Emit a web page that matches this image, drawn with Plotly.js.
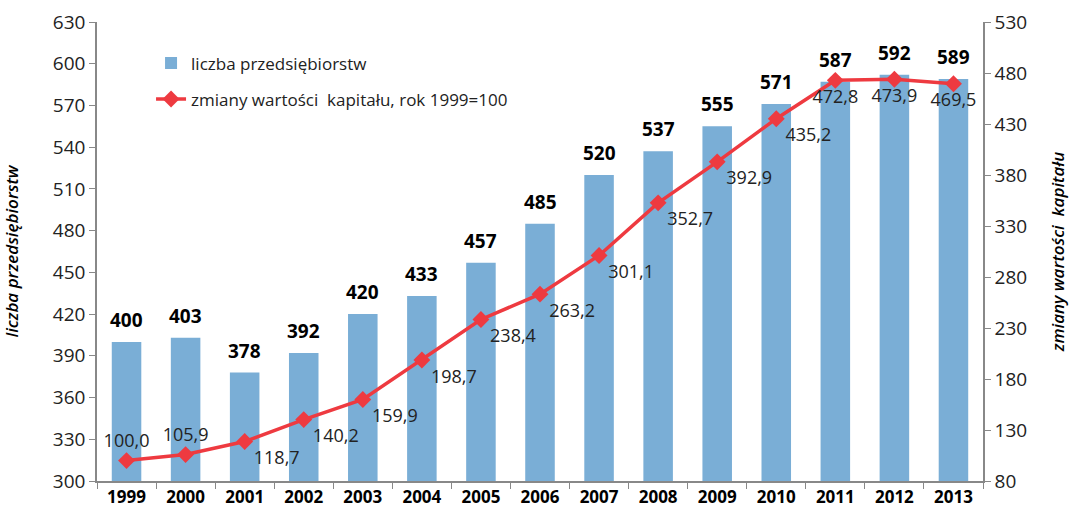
<!DOCTYPE html>
<html><head><meta charset="utf-8">
<script src="https://cdn.plot.ly/plotly-3.0.1.min.js"></script>
<style>body{margin:0;background:#fff}#c{width:1075px;height:517px}</style>
</head><body><div id="c"></div>
<script>
const years = ['1999','2000','2001','2002','2003','2004','2005','2006','2007','2008','2009','2010','2011','2012','2013'];
const firms = [400,403,378,392,420,433,457,485,520,537,555,571,587,592,589];
const capital = [100.0,105.9,118.7,140.2,159.9,198.7,238.4,263.2,301.1,352.7,392.9,435.2,472.8,473.9,469.5];
const capPos = ['top center','top center','bottom right','bottom right','bottom right','bottom right','bottom right','bottom right','bottom right','bottom right','bottom right','bottom right','bottom center','bottom center','bottom center'];

const F = '"Open Sans", Lato, sans-serif';
const fmt = v => v.toFixed(1).replace('.', ',');

const bars = {
  type:'bar', x:years, y:firms, name:'liczba przedsiębiorstw',
  marker:{color:'#7AAED6'}, legendgroup:'a'
};
const line = {
  type:'scatter', mode:'lines+markers+text', x:years, y:capital, yaxis:'y2',
  name:'zmiany wartości  kapitału, rok 1999=100',
  line:{color:'#EE3A40', width:3.5}, marker:{symbol:'diamond', size:13, color:'#EE3A40'},
  text:capital.map(fmt), textposition:capPos,
  textfont:{family:F, size:18, color:'#222'}, cliponaxis:false, legendgroup:'b'
};

const barLabels = firms.map((v, i) => ({
  x: i, y: v, xref:'x', yref:'y', text:'<b>' + v + '</b>',
  showarrow:false, yanchor:'bottom', yshift:7,
  font:{family:F, size:19, color:'#000'}
}));

const layout = {
  width:1075, height:517,
  margin:{l:97, r:92, t:22, b:36},
  paper_bgcolor:'#fff', plot_bgcolor:'#fff',
  font:{family:F, size:17, color:'#222'},
  bargap:0.5,
  showlegend:true,
  legend:{x:0.061, y:0.949, xanchor:'left', yanchor:'top', bgcolor:'rgba(0,0,0,0)',
          font:{family:F, size:17, color:'#222'}, traceorder:'grouped', tracegroupgap:11},
  annotations: barLabels,
  xaxis:{type:'category', range:[-0.5, 14.5], showline:true, linecolor:'#888', linewidth:1.5, ticks:'outside',
         tickson:'boundaries', ticklen:6, tickcolor:'#888', automargin:false,
         tickfont:{family:F, size:17, color:'#000', weight:'bold'}, showgrid:false},
  yaxis:{range:[300,630], dtick:30, tick0:300, showline:true, linecolor:'#888', linewidth:1.5,
         ticks:'outside', ticklen:6, tickcolor:'#888', showgrid:false, zeroline:false, automargin:false,
         tickfont:{family:F, size:19, color:'#222'},
         title:{text:'<i>liczba przedsiębiorstw</i>', standoff:33, font:{family:F, size:17, color:'#000', weight:600}}},
  yaxis2:{overlaying:'y', side:'right', range:[80,530], dtick:50, tick0:80, showline:true,
         linecolor:'#888', linewidth:1.5, ticks:'outside', ticklen:6, tickcolor:'#888', automargin:false,
         showgrid:false, zeroline:false, tickfont:{family:F, size:19, color:'#222'},
         title:{text:'<i>zmiany wartości  kapitału</i>', standoff:26, font:{family:F, size:17, color:'#000', weight:600}}}
};
Plotly.newPlot('c', [bars, line], layout, {displayModeBar:false});
</script></body></html>
